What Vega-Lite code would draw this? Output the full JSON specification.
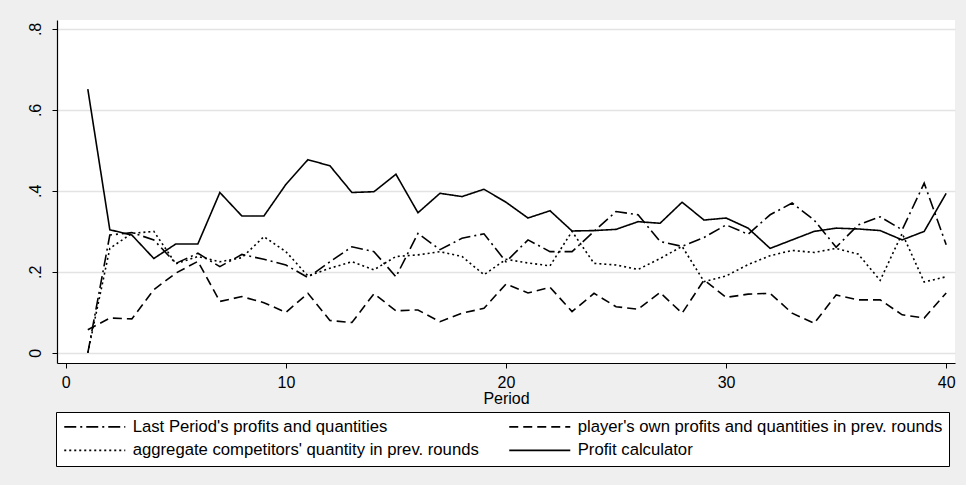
{
  "$schema": "https://vega.github.io/schema/vega-lite/v6.json",
  "width": 898,
  "height": 343,
  "autosize": {"type": "none"},
  "padding": {"left": 57, "top": 20, "right": 11, "bottom": 122},
  "background": "#EFEFEF",
  "config": {
    "font": "Liberation Sans",
    "view": {"fill": "white", "stroke": null},
    "axis": {"domainColor": "black", "tickColor": "black", "labelColor": "black", "titleColor": "black", "labelFont": "Liberation Sans", "titleFont": "Liberation Sans"}
  },
  "datasets": {
    "d": [
      {"period":1,"series":"Last Period's profits and quantities","value":0.0},
      {"period":2,"series":"Last Period's profits and quantities","value":0.291},
      {"period":3,"series":"Last Period's profits and quantities","value":0.297},
      {"period":4,"series":"Last Period's profits and quantities","value":0.279},
      {"period":5,"series":"Last Period's profits and quantities","value":0.221},
      {"period":6,"series":"Last Period's profits and quantities","value":0.246},
      {"period":7,"series":"Last Period's profits and quantities","value":0.213},
      {"period":8,"series":"Last Period's profits and quantities","value":0.243},
      {"period":9,"series":"Last Period's profits and quantities","value":0.231},
      {"period":10,"series":"Last Period's profits and quantities","value":0.217},
      {"period":11,"series":"Last Period's profits and quantities","value":0.186},
      {"period":12,"series":"Last Period's profits and quantities","value":0.225},
      {"period":13,"series":"Last Period's profits and quantities","value":0.262},
      {"period":14,"series":"Last Period's profits and quantities","value":0.25},
      {"period":15,"series":"Last Period's profits and quantities","value":0.188},
      {"period":16,"series":"Last Period's profits and quantities","value":0.295},
      {"period":17,"series":"Last Period's profits and quantities","value":0.255},
      {"period":18,"series":"Last Period's profits and quantities","value":0.283},
      {"period":19,"series":"Last Period's profits and quantities","value":0.294},
      {"period":20,"series":"Last Period's profits and quantities","value":0.225},
      {"period":21,"series":"Last Period's profits and quantities","value":0.279},
      {"period":22,"series":"Last Period's profits and quantities","value":0.25},
      {"period":23,"series":"Last Period's profits and quantities","value":0.25},
      {"period":24,"series":"Last Period's profits and quantities","value":0.3},
      {"period":25,"series":"Last Period's profits and quantities","value":0.349},
      {"period":26,"series":"Last Period's profits and quantities","value":0.341},
      {"period":27,"series":"Last Period's profits and quantities","value":0.275},
      {"period":28,"series":"Last Period's profits and quantities","value":0.263},
      {"period":29,"series":"Last Period's profits and quantities","value":0.285},
      {"period":30,"series":"Last Period's profits and quantities","value":0.316},
      {"period":31,"series":"Last Period's profits and quantities","value":0.293},
      {"period":32,"series":"Last Period's profits and quantities","value":0.341},
      {"period":33,"series":"Last Period's profits and quantities","value":0.37},
      {"period":34,"series":"Last Period's profits and quantities","value":0.328},
      {"period":35,"series":"Last Period's profits and quantities","value":0.261},
      {"period":36,"series":"Last Period's profits and quantities","value":0.316},
      {"period":37,"series":"Last Period's profits and quantities","value":0.336},
      {"period":38,"series":"Last Period's profits and quantities","value":0.304},
      {"period":39,"series":"Last Period's profits and quantities","value":0.419},
      {"period":40,"series":"Last Period's profits and quantities","value":0.267},

      {"period":1,"series":"player's own profits and quantities in prev. rounds","value":0.057},
      {"period":2,"series":"player's own profits and quantities in prev. rounds","value":0.086},
      {"period":3,"series":"player's own profits and quantities in prev. rounds","value":0.084},
      {"period":4,"series":"player's own profits and quantities in prev. rounds","value":0.156},
      {"period":5,"series":"player's own profits and quantities in prev. rounds","value":0.197},
      {"period":6,"series":"player's own profits and quantities in prev. rounds","value":0.226},
      {"period":7,"series":"player's own profits and quantities in prev. rounds","value":0.127},
      {"period":8,"series":"player's own profits and quantities in prev. rounds","value":0.139},
      {"period":9,"series":"player's own profits and quantities in prev. rounds","value":0.124},
      {"period":10,"series":"player's own profits and quantities in prev. rounds","value":0.1},
      {"period":11,"series":"player's own profits and quantities in prev. rounds","value":0.147},
      {"period":12,"series":"player's own profits and quantities in prev. rounds","value":0.08},
      {"period":13,"series":"player's own profits and quantities in prev. rounds","value":0.075},
      {"period":14,"series":"player's own profits and quantities in prev. rounds","value":0.146},
      {"period":15,"series":"player's own profits and quantities in prev. rounds","value":0.104},
      {"period":16,"series":"player's own profits and quantities in prev. rounds","value":0.106},
      {"period":17,"series":"player's own profits and quantities in prev. rounds","value":0.077},
      {"period":18,"series":"player's own profits and quantities in prev. rounds","value":0.098},
      {"period":19,"series":"player's own profits and quantities in prev. rounds","value":0.11},
      {"period":20,"series":"player's own profits and quantities in prev. rounds","value":0.17},
      {"period":21,"series":"player's own profits and quantities in prev. rounds","value":0.148},
      {"period":22,"series":"player's own profits and quantities in prev. rounds","value":0.162},
      {"period":23,"series":"player's own profits and quantities in prev. rounds","value":0.102},
      {"period":24,"series":"player's own profits and quantities in prev. rounds","value":0.147},
      {"period":25,"series":"player's own profits and quantities in prev. rounds","value":0.114},
      {"period":26,"series":"player's own profits and quantities in prev. rounds","value":0.108},
      {"period":27,"series":"player's own profits and quantities in prev. rounds","value":0.149},
      {"period":28,"series":"player's own profits and quantities in prev. rounds","value":0.098},
      {"period":29,"series":"player's own profits and quantities in prev. rounds","value":0.18},
      {"period":30,"series":"player's own profits and quantities in prev. rounds","value":0.137},
      {"period":31,"series":"player's own profits and quantities in prev. rounds","value":0.145},
      {"period":32,"series":"player's own profits and quantities in prev. rounds","value":0.147},
      {"period":33,"series":"player's own profits and quantities in prev. rounds","value":0.098},
      {"period":34,"series":"player's own profits and quantities in prev. rounds","value":0.073},
      {"period":35,"series":"player's own profits and quantities in prev. rounds","value":0.143},
      {"period":36,"series":"player's own profits and quantities in prev. rounds","value":0.131},
      {"period":37,"series":"player's own profits and quantities in prev. rounds","value":0.131},
      {"period":38,"series":"player's own profits and quantities in prev. rounds","value":0.094},
      {"period":39,"series":"player's own profits and quantities in prev. rounds","value":0.086},
      {"period":40,"series":"player's own profits and quantities in prev. rounds","value":0.148},

      {"period":1,"series":"aggregate competitors' quantity in prev. rounds","value":0.0},
      {"period":2,"series":"aggregate competitors' quantity in prev. rounds","value":0.258},
      {"period":3,"series":"aggregate competitors' quantity in prev. rounds","value":0.295},
      {"period":4,"series":"aggregate competitors' quantity in prev. rounds","value":0.3},
      {"period":5,"series":"aggregate competitors' quantity in prev. rounds","value":0.22},
      {"period":6,"series":"aggregate competitors' quantity in prev. rounds","value":0.238},
      {"period":7,"series":"aggregate competitors' quantity in prev. rounds","value":0.225},
      {"period":8,"series":"aggregate competitors' quantity in prev. rounds","value":0.235},
      {"period":9,"series":"aggregate competitors' quantity in prev. rounds","value":0.287},
      {"period":10,"series":"aggregate competitors' quantity in prev. rounds","value":0.25},
      {"period":11,"series":"aggregate competitors' quantity in prev. rounds","value":0.19},
      {"period":12,"series":"aggregate competitors' quantity in prev. rounds","value":0.209},
      {"period":13,"series":"aggregate competitors' quantity in prev. rounds","value":0.225},
      {"period":14,"series":"aggregate competitors' quantity in prev. rounds","value":0.205},
      {"period":15,"series":"aggregate competitors' quantity in prev. rounds","value":0.238},
      {"period":16,"series":"aggregate competitors' quantity in prev. rounds","value":0.242},
      {"period":17,"series":"aggregate competitors' quantity in prev. rounds","value":0.25},
      {"period":18,"series":"aggregate competitors' quantity in prev. rounds","value":0.238},
      {"period":19,"series":"aggregate competitors' quantity in prev. rounds","value":0.193},
      {"period":20,"series":"aggregate competitors' quantity in prev. rounds","value":0.231},
      {"period":21,"series":"aggregate competitors' quantity in prev. rounds","value":0.222},
      {"period":22,"series":"aggregate competitors' quantity in prev. rounds","value":0.215},
      {"period":23,"series":"aggregate competitors' quantity in prev. rounds","value":0.3},
      {"period":24,"series":"aggregate competitors' quantity in prev. rounds","value":0.221},
      {"period":25,"series":"aggregate competitors' quantity in prev. rounds","value":0.217},
      {"period":26,"series":"aggregate competitors' quantity in prev. rounds","value":0.206},
      {"period":27,"series":"aggregate competitors' quantity in prev. rounds","value":0.233},
      {"period":28,"series":"aggregate competitors' quantity in prev. rounds","value":0.263},
      {"period":29,"series":"aggregate competitors' quantity in prev. rounds","value":0.176},
      {"period":30,"series":"aggregate competitors' quantity in prev. rounds","value":0.19},
      {"period":31,"series":"aggregate competitors' quantity in prev. rounds","value":0.218},
      {"period":32,"series":"aggregate competitors' quantity in prev. rounds","value":0.24},
      {"period":33,"series":"aggregate competitors' quantity in prev. rounds","value":0.253},
      {"period":34,"series":"aggregate competitors' quantity in prev. rounds","value":0.248},
      {"period":35,"series":"aggregate competitors' quantity in prev. rounds","value":0.258},
      {"period":36,"series":"aggregate competitors' quantity in prev. rounds","value":0.244},
      {"period":37,"series":"aggregate competitors' quantity in prev. rounds","value":0.179},
      {"period":38,"series":"aggregate competitors' quantity in prev. rounds","value":0.295},
      {"period":39,"series":"aggregate competitors' quantity in prev. rounds","value":0.175},
      {"period":40,"series":"aggregate competitors' quantity in prev. rounds","value":0.188},

      {"period":1,"series":"Profit calculator","value":0.651},
      {"period":2,"series":"Profit calculator","value":0.304},
      {"period":3,"series":"Profit calculator","value":0.291},
      {"period":4,"series":"Profit calculator","value":0.233},
      {"period":5,"series":"Profit calculator","value":0.269},
      {"period":6,"series":"Profit calculator","value":0.269},
      {"period":7,"series":"Profit calculator","value":0.396},
      {"period":8,"series":"Profit calculator","value":0.338},
      {"period":9,"series":"Profit calculator","value":0.338},
      {"period":10,"series":"Profit calculator","value":0.416},
      {"period":11,"series":"Profit calculator","value":0.477},
      {"period":12,"series":"Profit calculator","value":0.462},
      {"period":13,"series":"Profit calculator","value":0.396},
      {"period":14,"series":"Profit calculator","value":0.398},
      {"period":15,"series":"Profit calculator","value":0.441},
      {"period":16,"series":"Profit calculator","value":0.346},
      {"period":17,"series":"Profit calculator","value":0.394},
      {"period":18,"series":"Profit calculator","value":0.386},
      {"period":19,"series":"Profit calculator","value":0.404},
      {"period":20,"series":"Profit calculator","value":0.372},
      {"period":21,"series":"Profit calculator","value":0.333},
      {"period":22,"series":"Profit calculator","value":0.351},
      {"period":23,"series":"Profit calculator","value":0.301},
      {"period":24,"series":"Profit calculator","value":0.302},
      {"period":25,"series":"Profit calculator","value":0.305},
      {"period":26,"series":"Profit calculator","value":0.324},
      {"period":27,"series":"Profit calculator","value":0.32},
      {"period":28,"series":"Profit calculator","value":0.372},
      {"period":29,"series":"Profit calculator","value":0.328},
      {"period":30,"series":"Profit calculator","value":0.333},
      {"period":31,"series":"Profit calculator","value":0.308},
      {"period":32,"series":"Profit calculator","value":0.258},
      {"period":33,"series":"Profit calculator","value":0.279},
      {"period":34,"series":"Profit calculator","value":0.3},
      {"period":35,"series":"Profit calculator","value":0.308},
      {"period":36,"series":"Profit calculator","value":0.306},
      {"period":37,"series":"Profit calculator","value":0.302},
      {"period":38,"series":"Profit calculator","value":0.279},
      {"period":39,"series":"Profit calculator","value":0.3},
      {"period":40,"series":"Profit calculator","value":0.394}
    ]
  },
  "data": {"name": "d"},
  "mark": {"type": "line", "color": "black", "strokeWidth": 1.6, "clip": true},
  "encoding": {
    "x": {
      "field": "period", "type": "quantitative",
      "scale": {"domain": [-0.4, 40.4], "nice": false, "zero": false},
      "axis": {"values": [0, 10, 20, 30, 40], "grid": false, "tickSize": 5, "labelFontSize": 16, "labelPadding": 6, "title": "Period", "titleFontSize": 16, "titleFontWeight": "normal", "titlePadding": 0, "domainWidth": 1.2}
    },
    "y": {
      "field": "value", "type": "quantitative",
      "scale": {"domain": [-0.025, 0.822], "nice": false, "zero": false},
      "axis": {"values": [0, 0.2, 0.4, 0.6, 0.8], "grid": true, "gridColor": "#E3E3E3", "gridWidth": 1.5, "tickSize": 5, "labelFontSize": 16, "labelAngle": -90, "labelAlign": "center", "labelBaseline": "bottom", "labelPadding": 9, "labelExpr": "datum.value == 0 ? '0' : replace(format(datum.value, '.1f'), '0.', '.')", "title": null, "domainWidth": 1.2}
    },
    "strokeDash": {
      "field": "series", "type": "nominal",
      "scale": {
        "domain": ["Last Period's profits and quantities", "player's own profits and quantities in prev. rounds", "aggregate competitors' quantity in prev. rounds", "Profit calculator"],
        "range": [[12, 4, 2, 4], [9, 5], [2, 3], [1, 0]]
      },
      "legend": {
        "title": null, "orient": "none", "legendX": -1, "legendY": 392, "direction": "horizontal", "columns": 2,
        "symbolType": "M-1,0H9", "symbolSize": 149, "symbolStrokeWidth": 1.6, "symbolStrokeColor": "black",
        "labelFontSize": 16.7, "labelLimit": 600, "labelOffset": 54, "labelColor": "black",
        "fillColor": "white", "strokeColor": "black", "padding": 6, "rowPadding": 6, "columnPadding": 27
      }
    }
  }
}
